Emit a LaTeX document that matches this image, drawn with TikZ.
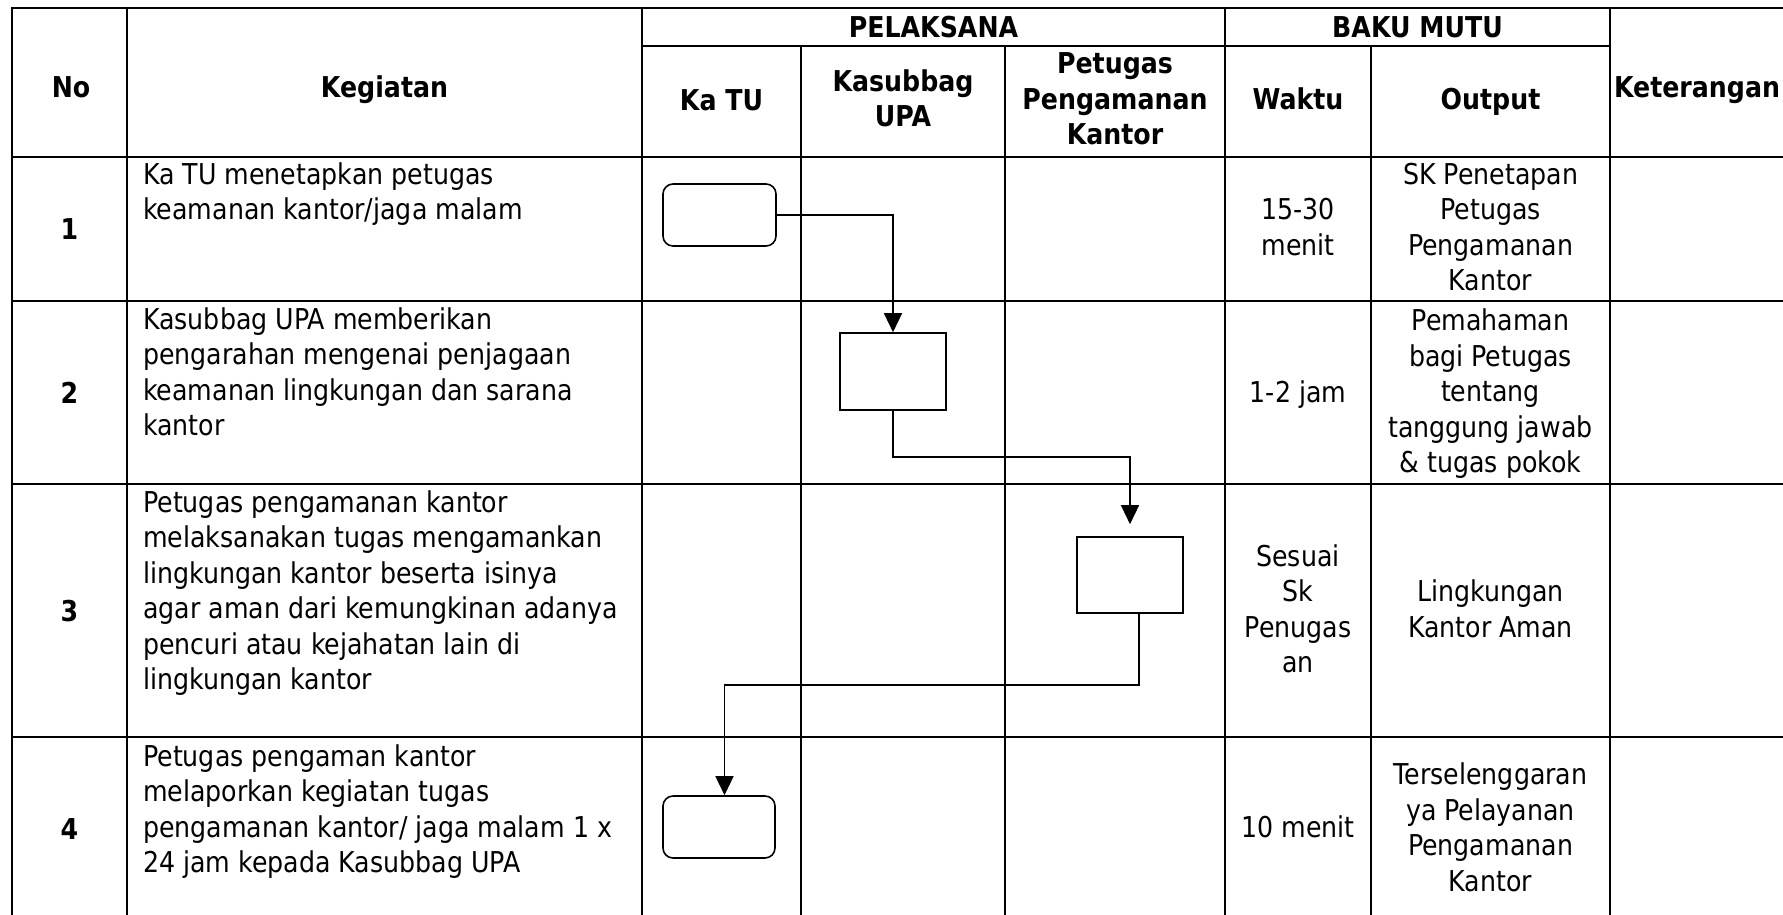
\documentclass[tikz,border=0pt]{standalone}
\usepackage{fontspec}
\setmainfont{DejaVu Sans}[FakeStretch=0.88]
\usetikzlibrary{arrows.meta}
\tikzset{
  grid/.style={line width=2pt, line cap=rect},
  txt/.style={inner sep=0pt, anchor=north, align=center, font=\fontsize{28.7}{35.5}\selectfont},
  hdr/.style={txt, font=\fontsize{28.7}{35.5}\selectfont\bfseries},
  ltxt/.style={txt, anchor=north west, align=left},
  rbox/.style={draw, line width=1.6pt, rounded corners=10pt, inner sep=0pt},
  sbox/.style={draw, line width=1.6pt, inner sep=0pt},
  arr/.style={line width=1.4pt, -{Triangle[length=19pt,width=18pt]}},
}
\begin{document}
\begin{tikzpicture}[x=1pt,y=-1pt]
\useasboundingbox (0,0) rectangle (1783,914);
\fill[white] (0,0) rectangle (1783,914);
% grid
\draw[grid] (12,914) -- (12,8) -- (1783,8);
\draw[grid] (642,46) -- (1610,46);
\draw[grid] (12,157) -- (1783,157);
\draw[grid] (12,301) -- (1783,301);
\draw[grid] (12,484) -- (1783,484);
\draw[grid] (12,737) -- (1783,737);
\draw[grid] (127,8) -- (127,914);
\draw[grid] (642,8) -- (642,914);
\draw[grid] (801,46) -- (801,914);
\draw[grid] (1005,46) -- (1005,914);
\draw[grid] (1225,8) -- (1225,914);
\draw[grid] (1371,46) -- (1371,914);
\draw[grid] (1610,8) -- (1610,914);
% header
\node[hdr] (hNo) at (71,72) {\strut No};
\node[hdr] (hKeg) at (384.5,72) {\strut Kegiatan};
\node[hdr] (hKet) at (1697,72) {\strut Keterangan};
\node[hdr] (hPel) at (933.5,12.6) {\strut PELAKSANA};
\node[hdr] (hBaku) at (1417.5,12.6) {\strut BAKU MUTU};
\node[hdr] (hKaTU) at (721.5,85) {\strut Ka TU};
\node[hdr] (hKasub) at (903,66.4) {\strut Kasubbag\\UPA};
\node[hdr] (hPet) at (1115,48.6) {\strut Petugas\\Pengamanan\\Kantor};
\node[hdr] (hWaktu) at (1298,84.2) {\strut Waktu};
\node[hdr] (hOut) at (1490.5,84.2) {\strut Output};
% row 1
\node[hdr] (n1) at (69.5,214.7) {\strut 1};
\node[ltxt] (k1) at (143,159.2) {\strut Ka TU menetapkan petugas\\keamanan kantor/jaga malam};
\node[txt] (w1) at (1298,194.9) {\strut 15-30\\menit};
\node[txt] (o1) at (1490.5,159.4) {\strut SK Penetapan\\Petugas\\Pengamanan\\Kantor};
% row 2
\node[hdr] (n2) at (69.5,378.2) {\strut 2};
\node[ltxt] (k2) at (143,304.2) {\strut Kasubbag UPA memberikan\\pengarahan mengenai penjagaan\\keamanan lingkungan dan sarana\\kantor};
\node[txt] (w2) at (1298,377.2) {\strut 1-2 jam};
\node[txt] (o2) at (1490.5,305.7) {\strut Pemahaman\\bagi Petugas\\tentang\\tanggung jawab\\\& tugas pokok};
% row 3
\node[hdr] (n3) at (69.5,596.2) {\strut 3};
\node[ltxt] (k3) at (143,487.2) {\strut Petugas pengamanan kantor\\melaksanakan tugas mengamankan\\lingkungan kantor beserta isinya\\agar aman dari kemungkinan adanya\\pencuri atau kejahatan lain di\\lingkungan kantor};
\node[txt] (w3) at (1298,541.4) {\strut Sesuai\\Sk\\Penugas\\an};
\node[txt] (o3) at (1490.5,576.9) {\strut Lingkungan\\Kantor Aman};
% row 4
\node[hdr] (n4) at (69.5,814.7) {\strut 4};
\node[ltxt] (k4) at (143,741.2) {\strut Petugas pengaman kantor\\melaporkan kegiatan tugas\\pengamanan kantor/ jaga malam 1 x\\24 jam kepada Kasubbag UPA};
\node[txt] (w4) at (1298,812.2) {\strut 10 menit};
\node[txt] (o4) at (1490.5,759.9) {\strut Terselenggaran\\ya Pelayanan\\Pengamanan\\Kantor};
% flow shapes
\node[rbox, minimum width=113pt, minimum height=62pt] (b1) at (719.5,215) {};
\node[sbox, minimum width=106pt, minimum height=77pt] (b2) at (893,371.5) {};
\node[sbox, minimum width=106pt, minimum height=76pt] (b3) at (1130,575) {};
\node[rbox, minimum width=112pt, minimum height=62pt] (b4) at (719,827) {};
% connectors
\draw[arr] (b1.east) -| (b2.north);
\draw[arr, shorten >=12pt] (b2.south) -- ++(0,46) -| (b3.north);
\draw[arr] ([xshift=9pt]b3.south) -- ++(0,71) -| ([xshift=5.5pt]b4.north);
\end{tikzpicture}
\end{document}
